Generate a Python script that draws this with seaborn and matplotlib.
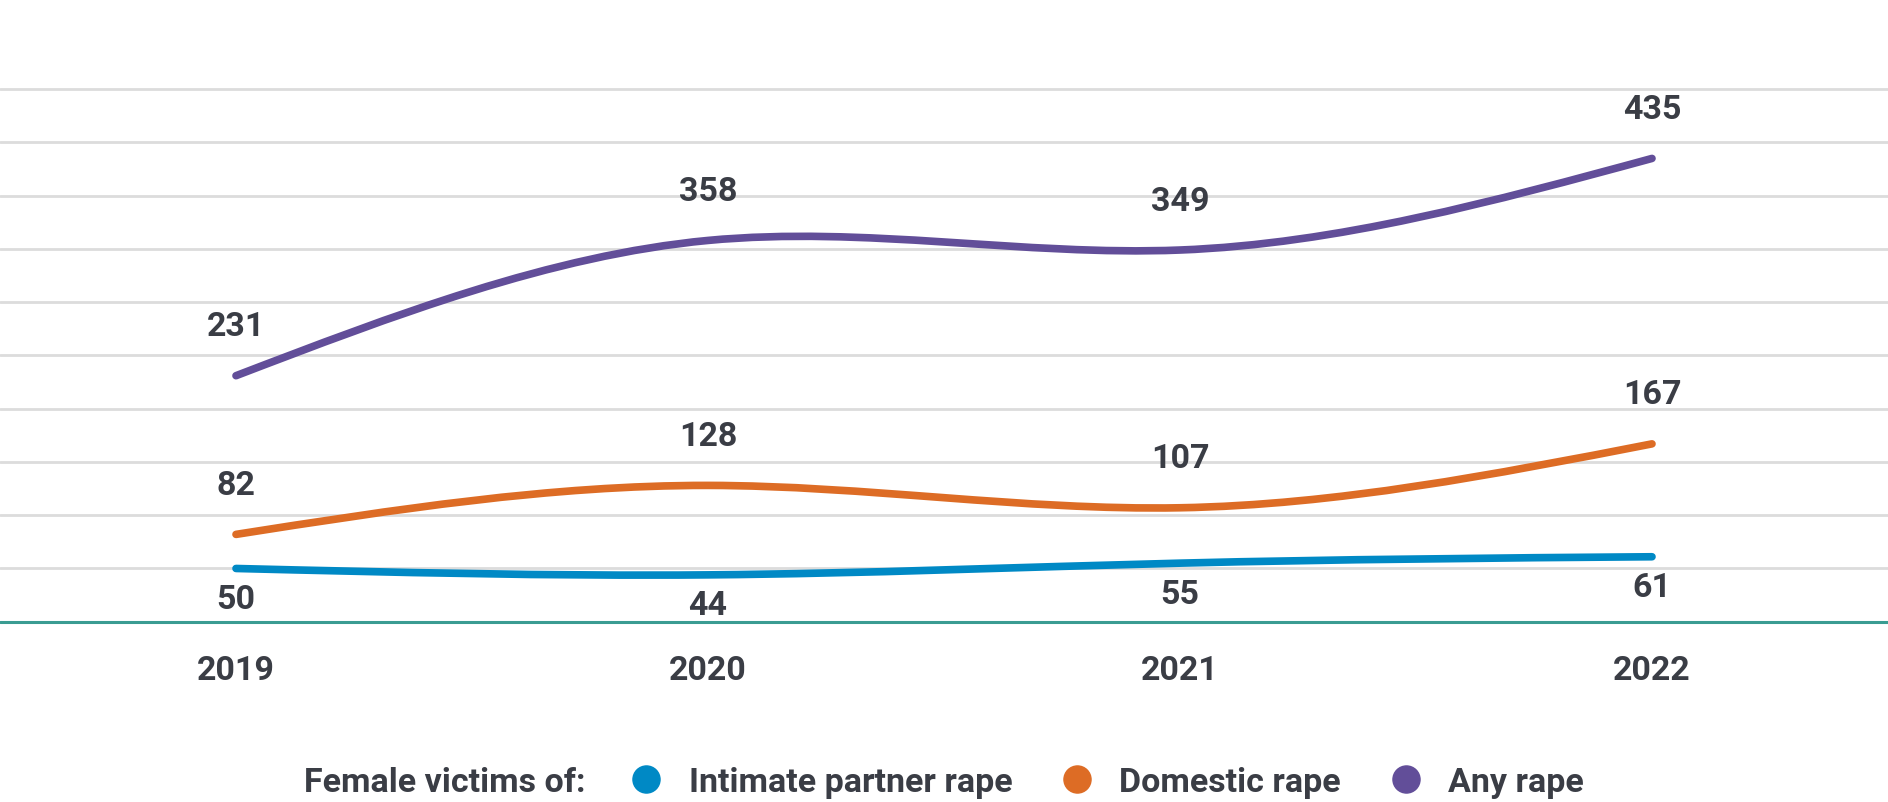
#!/usr/bin/env python3
# Female victims of rape by year, smooth line chart

import numpy as np
import seaborn as sns
import matplotlib.pyplot as plt
from matplotlib.path import Path
from matplotlib.patches import PathPatch
from matplotlib.lines import Line2D

years = ["2019", "2020", "2021", "2022"]
intimate = [50, 44, 55, 61]
domestic = [82, 128, 107, 167]
any_rape = [231, 358, 349, 435]
series = ["Intimate partner rape", "Domestic rape", "Any rape"]
legend_title = "Female victims of:"

colors = ["#0089c5", "#dd6c25", "#624e99"]
TEXT = "#3a3d45"
GRID = "#dcdcdc"
BASE = "#3a9c92"

sns.set_theme(style="white")
plt.rcParams["font.family"] = ["Roboto", "DejaVu Sans"]
FS = 24.5
WEIGHT = "bold"


def natural_path(y):
    # natural cubic spline through the points, written as bezier segments
    y = np.asarray(y, float)
    n = len(y)
    A = np.zeros((n, n))
    b = np.zeros(n)
    A[0, 0] = A[-1, -1] = 1
    for i in range(1, n - 1):
        A[i, i - 1:i + 2] = [1, 4, 1]
        b[i] = 6 * (y[i + 1] - 2 * y[i] + y[i - 1])
    M = np.linalg.solve(A, b)
    d = np.empty(n)
    d[:-1] = np.diff(y) - (2 * M[:-1] + M[1:]) / 6
    d[-1] = y[-1] - y[-2] + (M[-2] + 2 * M[-1]) / 6
    verts = [(0, y[0])]
    codes = [Path.MOVETO]
    for i in range(n - 1):
        verts += [(i + 1 / 3, y[i] + d[i] / 3),
                  (i + 2 / 3, y[i + 1] - d[i + 1] / 3),
                  (i + 1, y[i + 1])]
        codes += [Path.CURVE4] * 3
    return Path(verts, codes)


fig = plt.figure(figsize=(18.88, 8.03), dpi=100)
ax = fig.add_axes([0, 0.2245, 1, 0.6698])
ax.set_xlim(-0.5, 3.5)
ax.set_ylim(0, 505)

ax.set_yticks(np.arange(0, 501, 50))
ax.yaxis.grid(True, color=GRID, linewidth=2.0)
ax.set_axisbelow(True)
ax.tick_params(axis="y", left=False, labelleft=False)
sns.despine(ax=ax, left=True, bottom=True)
ax.axhline(0, color=BASE, linewidth=2.2, clip_on=False, zorder=2)

ax.set_xticks(range(len(years)), years)
ax.tick_params(axis="x", length=0, pad=23, labelsize=FS, labelcolor=TEXT)
for lab in ax.get_xticklabels():
    lab.set_fontweight(WEIGHT)

for vals, color, below in [(intimate, colors[0], True),
                           (domestic, colors[1], False),
                           (any_rape, colors[2], False)]:
    patch = PathPatch(natural_path(vals), facecolor="none", edgecolor=color,
                      linewidth=5.5, capstyle="round", joinstyle="round",
                      zorder=3)
    ax.add_patch(patch)
    for i, v in enumerate(vals):
        ax.annotate(str(v), (i, v), xytext=(0, -22 if below else 35.6),
                    textcoords="offset points", ha="center", va="center",
                    fontsize=FS, fontweight=WEIGHT, color=TEXT,
                    annotation_clip=False, zorder=4)

fig.text(304 / 1888, 1 - 783 / 803, legend_title, ha="left", va="center",
         fontsize=FS, fontweight=WEIGHT, color=TEXT)
handles = [Line2D([], [], marker="o", linestyle="", markersize=19.5, color=c)
           for c in colors]
fig.legend(handles, series, loc="center left",
           bbox_to_anchor=(629 / 1888, 1 - 783 / 803), ncol=3, frameon=False,
           handlelength=1.0, handletextpad=0.75, columnspacing=1.4,
           borderpad=0, borderaxespad=0,
           prop={"size": FS, "weight": WEIGHT}, labelcolor=TEXT)

fig.savefig("out.png", dpi=100)
